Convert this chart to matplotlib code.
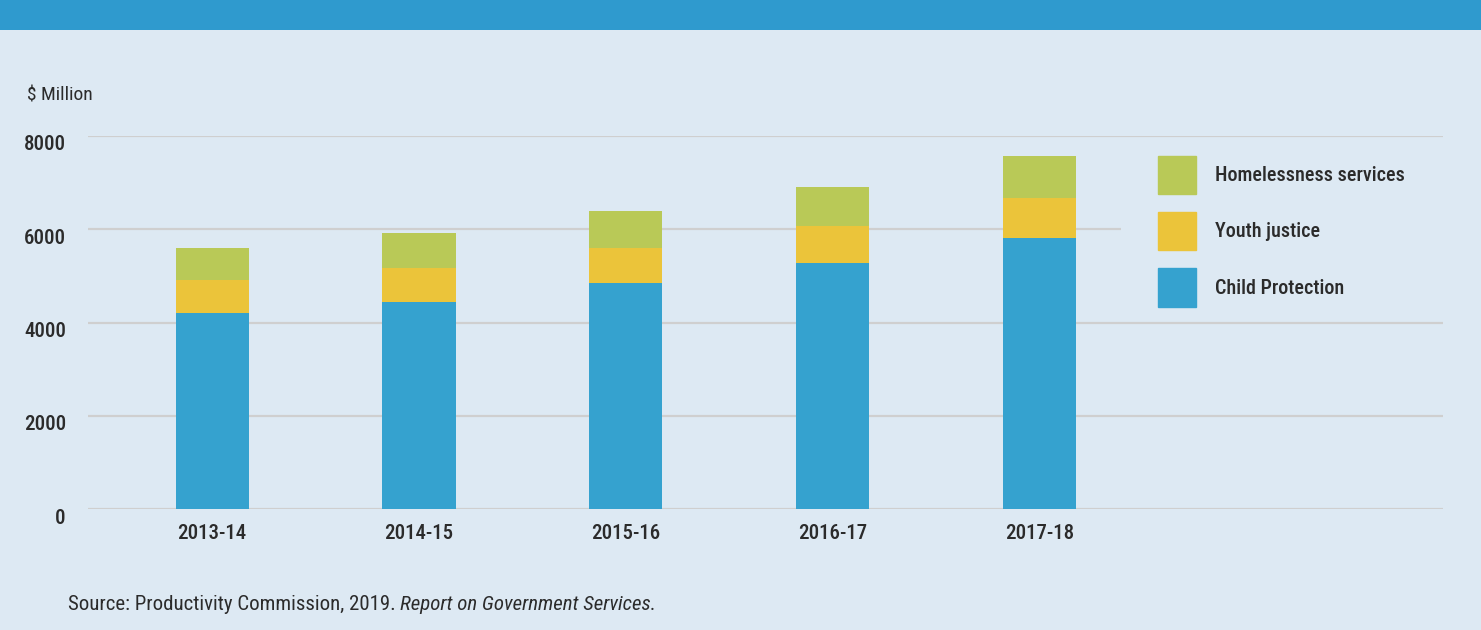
# Stacked bar chart of spending by category, 2013-14 to 2017-18

import matplotlib.pyplot as plt
from matplotlib import font_manager
from matplotlib.patches import Rectangle, Patch
from matplotlib.transforms import ScaledTranslation

# Data ($ million)
years = ["2013-14", "2014-15", "2015-16", "2016-17", "2017-18"]
child_protection = [4200, 4440, 4850, 5280, 5810]
youth_justice = [710, 730, 750, 790, 860]
homelessness = [690, 750, 790, 840, 900]
y_ticks = [0, 2000, 4000, 6000, 8000]

# Pick a narrow font if there is one
available = set(f.name for f in font_manager.fontManager.ttflist)
font = "DejaVu Sans"
for name in ["Roboto Condensed", "Liberation Sans Narrow", "Roboto", "Liberation Sans"]:
    if name in available:
        font = name
        break
plt.rcParams["font.family"] = [font, "DejaVu Sans"]

bg = "#dde9f3"
blue = "#35a2cf"
yellow = "#ebc43a"
green = "#b9c957"
text_col = "#2b2b2b"

fig = plt.figure(figsize=(14.81, 6.30), dpi=100, facecolor=bg)
ax = fig.add_axes([88 / 1481, 121 / 630, 1355 / 1481, 373 / 630])
ax.set_facecolor(bg)

# top banner
fig.patches.append(Rectangle((0, 1 - 30 / 630), 1, 30 / 630, transform=fig.transFigure,
                             facecolor="#2f9ace", edgecolor="none"))

x = list(range(len(years)))
w = 0.353
bottom2 = child_protection
bottom3 = [a + b for a, b in zip(child_protection, youth_justice)]
ax.bar(x, child_protection, w, color=blue, zorder=3)
ax.bar(x, youth_justice, w, bottom=bottom2, color=yellow, zorder=3)
ax.bar(x, homelessness, w, bottom=bottom3, color=green, zorder=3)

ax.set_xlim(-0.6, 5.95)
ax.set_ylim(0, 8000)
ax.set_yticks(y_ticks)
ax.set_xticks(x)
ax.set_xticklabels(years)
ax.grid(axis="y", color="#cfcfcf", linewidth=1.6)
ax.set_axisbelow(True)
for s in ax.spines.values():
    s.set_visible(False)
ax.tick_params(axis="both", length=0, labelsize=15, colors=text_col)
ax.tick_params(axis="y", pad=16)
ax.tick_params(axis="x", pad=11)
for lab in ax.get_yticklabels():
    lab.set_fontweight("medium")
    lab.set_transform(lab.get_transform() + ScaledTranslation(0, -7 / 100, fig.dpi_scale_trans))
for lab in ax.get_xticklabels():
    lab.set_fontweight("medium")

# cover the gridline behind the legend
ax.add_patch(Rectangle((0.762, 0.54), 0.25, 0.42, transform=ax.transAxes,
                       facecolor=bg, edgecolor="none", zorder=1, clip_on=False))

handles = [Patch(color=green), Patch(color=yellow), Patch(color=blue)]
labels = ["Homelessness services", "Youth justice", "Child Protection"]
leg = ax.legend(handles, labels, loc="upper left", bbox_to_anchor=(0.7897, 0.946),
                frameon=False, fontsize=14.5, handlelength=1.89, handleheight=2.53,
                labelspacing=0.9, handletextpad=0.94, borderpad=0, borderaxespad=0)
for t in leg.get_texts():
    t.set_color(text_col)
    t.set_fontweight("medium")

fig.text(27 / 1481, 1 - 95 / 630, "$ Million", fontsize=14, color=text_col, va="center")
fig.text(68 / 1481, 1 - 604 / 630, "Source: Productivity Commission, 2019. ",
         fontsize=15, color=text_col, va="center")
src = fig.texts[-1]
fig.canvas.draw()
bb = src.get_window_extent()
fig.text(bb.x1 / 1481, 1 - 604 / 630, "Report on Government Services.",
         fontsize=15, color=text_col, va="center", style="italic")

fig.savefig("out.png", dpi=100, facecolor=bg)
